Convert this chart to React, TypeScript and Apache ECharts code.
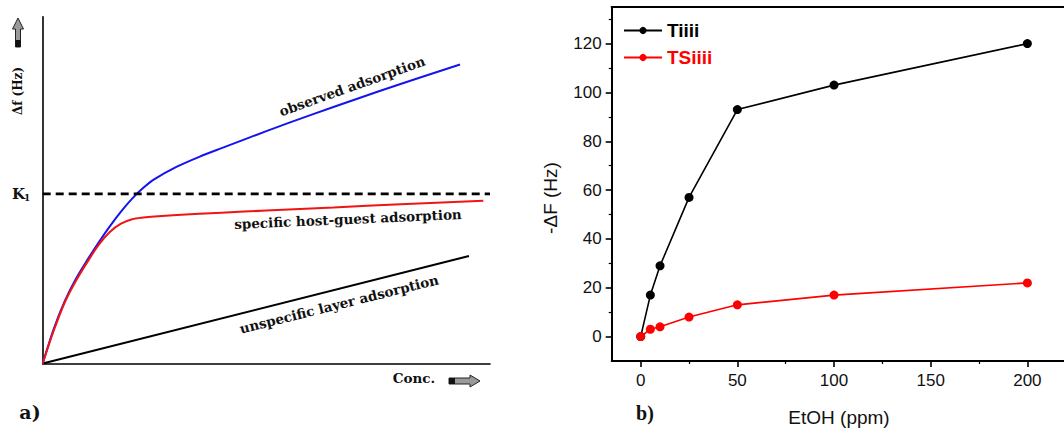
import React, { useEffect, useRef } from "react";
import * as echarts from "echarts";

// ---------- Panel a (schematic) ----------
const observedX = [0, 2.5, 5, 7.5, 10, 12.5, 15, 17.5, 20, 22.5, 25, 30, 35, 40, 50, 60, 70, 80, 93.3];
const observedY = [0, 10.1, 18.2, 24.6, 29.9, 34.9, 39.55, 43.8, 47.55, 50.65, 53.15, 56.75, 59.6, 62.1, 67.0, 71.7, 76.2, 80.6, 86.2];
const specificX = [0, 2.5, 5, 7.5, 10, 12.5, 15, 17.5, 20, 22.5, 25, 30, 40, 50, 65, 80, 98.5];
const specificY = [0, 9.6, 17.8, 24.0, 29.3, 34.2, 37.9, 40.3, 41.6, 42.1, 42.4, 42.8, 43.5, 44.1, 45.0, 45.9, 46.9];
const unspecificX = [0, 95.3];
const unspecificY = [0, 31.0];
const k1Level = 48.9;
const k1Span = [0, 100];

// ---------- Panel b (data) ----------
const ethanolPpm = [0, 5, 10, 25, 50, 100, 200];
const tiiii = [0, 17, 29, 57, 93, 103, 120];
const tsiiii = [0, 3, 4, 8, 13, 17, 22];
const xMajorTicks = [0, 50, 100, 150, 200];
const xMinorTicks = [25, 75, 125, 175];
const yMajorTicks = [0, 20, 40, 60, 80, 100, 120];
const yMinorTicks = [10, 30, 50, 70, 90, 110, 130];

const zip = (xs: number[], ys: number[]) => xs.map((x, i) => [x, ys[i]]);

const SERIF = "DejaVu Serif";
const SANS = "Liberation Sans";

export default function App() {
  const ref = useRef<HTMLDivElement>(null);
  useEffect(() => {
    if (!ref.current) return;
    const chart = echarts.init(ref.current, null, { renderer: "svg" });
    const deg = Math.PI / 180;
    const serifText = (text: string, x: number, y: number, size: number, rot = 0, align = "center") => ({
      type: "text",
      x,
      y,
      rotation: rot * deg,
      silent: true,
      style: { text, fontFamily: SERIF, fontWeight: "bold", fontSize: size, fill: "#111", align, verticalAlign: "middle" },
    });
    const option: any = {
      animation: false,
      backgroundColor: "#fff",
      grid: [
        { left: 42.7, top: 16.7, width: 447.3, height: 346.8 },
        { left: 611.7, top: 7, width: 464, height: 354 },
      ],
      xAxis: [
        {
          gridIndex: 0, type: "value", min: 0, max: 100,
          axisLine: { show: true, lineStyle: { color: "#000", width: 1.6 } },
          axisTick: { show: false }, axisLabel: { show: false }, splitLine: { show: false },
        },
        {
          gridIndex: 1, type: "value", min: -15, max: 225, position: "bottom",
          axisLine: { show: true, onZero: false, lineStyle: { color: "#000", width: 2 } },
          axisTick: { show: true, length: 6, customValues: xMajorTicks, lineStyle: { color: "#000", width: 1.6 } },
          axisLabel: { show: true, customValues: xMajorTicks, margin: 11, fontFamily: SANS, fontSize: 17, color: "#111" },
          splitLine: { show: false },
        },
        {
          gridIndex: 1, type: "value", min: -15, max: 225, position: "bottom",
          axisLine: { show: false, onZero: false },
          axisTick: { show: true, length: 3, customValues: xMinorTicks, lineStyle: { color: "#000", width: 1.2 } },
          axisLabel: { show: false }, splitLine: { show: false },
        },
        {
          gridIndex: 1, type: "value", min: -15, max: 225, position: "top",
          axisLine: { show: true, onZero: false, lineStyle: { color: "#000", width: 2.2 } },
          axisTick: { show: false }, axisLabel: { show: false }, splitLine: { show: false },
        },
      ],
      yAxis: [
        {
          gridIndex: 0, type: "value", min: 0, max: 100,
          axisLine: { show: true, lineStyle: { color: "#000", width: 1.6 } },
          axisTick: { show: false }, axisLabel: { show: false }, splitLine: { show: false },
        },
        {
          gridIndex: 1, type: "value", min: -10, max: 135, position: "left",
          axisLine: { show: true, onZero: false, lineStyle: { color: "#000", width: 2 } },
          axisTick: { show: true, length: 6, customValues: yMajorTicks, lineStyle: { color: "#000", width: 1.6 } },
          axisLabel: { show: true, customValues: yMajorTicks, margin: 10, fontFamily: SANS, fontSize: 17, color: "#111" },
          splitLine: { show: false },
        },
        {
          gridIndex: 1, type: "value", min: -10, max: 135, position: "left", offset: 0,
          axisLine: { show: false, onZero: false },
          axisTick: { show: true, length: 3, customValues: yMinorTicks, lineStyle: { color: "#000", width: 1.2 } },
          axisLabel: { show: false }, splitLine: { show: false },
        },
      ],
      legend: {
        left: 618, top: 16, orient: "vertical", itemWidth: 38, itemHeight: 9, itemGap: 8,
        textStyle: { fontFamily: SANS, fontWeight: "bold", fontSize: 19 },
        data: [
          { name: "Tiiii", textStyle: { color: "#000" } },
          { name: "TSiiii", textStyle: { color: "#ff0000" } },
        ],
      },
      series: [
        {
          name: "unspecific", type: "line", xAxisIndex: 0, yAxisIndex: 0, showSymbol: false,
          data: zip(unspecificX, unspecificY), lineStyle: { color: "#000", width: 2 },
        },
        {
          name: "observed", type: "line", xAxisIndex: 0, yAxisIndex: 0, showSymbol: false, smooth: 0.3,
          data: zip(observedX, observedY), lineStyle: { color: "#1414f0", width: 2 },
        },
        {
          name: "specific", type: "line", xAxisIndex: 0, yAxisIndex: 0, showSymbol: false, smooth: 0.3,
          data: zip(specificX, specificY), lineStyle: { color: "#f01414", width: 2 },
        },
        {
          name: "K1", type: "line", xAxisIndex: 0, yAxisIndex: 0, showSymbol: false,
          data: k1Span.map((x) => [x, k1Level]), lineStyle: { color: "#000", width: 2.6, type: [8, 5] },
        },
        {
          name: "Tiiii", type: "line", xAxisIndex: 1, yAxisIndex: 1, symbol: "circle", symbolSize: 9,
          data: zip(ethanolPpm, tiiii), itemStyle: { color: "#000" }, lineStyle: { color: "#000", width: 1.6 },
        },
        {
          name: "TSiiii", type: "line", xAxisIndex: 1, yAxisIndex: 1, symbol: "circle", symbolSize: 9,
          data: zip(ethanolPpm, tsiiii), itemStyle: { color: "#ff0000" }, lineStyle: { color: "#ff0000", width: 1.6 },
        },
      ],
      graphic: [
        serifText("observed adsorption", 352, 86, 13.5, 19.5),
        serifText("specific host-guest adsorption", 348, 219, 13.5, 2.5),
        serifText("unspecific layer adsorption", 339, 304, 13.5, 14),
        serifText("Δf (Hz)", 18, 91, 12, 90),
        serifText("K", 12, 194, 15, 0, "left"),
        serifText("1", 24, 198, 9, 0, "left"),
        serifText("Conc.", 414, 378, 13.5),
        serifText("a)", 30, 412, 19),
        {
          type: "text", x: 645, y: 413, silent: true,
          style: { text: "b)", fontFamily: "Liberation Serif", fontWeight: "bold", fontSize: 20, fill: "#111", align: "center", verticalAlign: "middle" },
        },
        {
          type: "text", x: 839, y: 417, silent: true,
          style: { text: "EtOH (ppm)", fontFamily: SANS, fontSize: 19, fill: "#111", align: "center", verticalAlign: "middle" },
        },
        {
          type: "text", x: 550, y: 198, rotation: 90 * deg, silent: true,
          style: { text: "-ΔF (Hz)", fontFamily: SANS, fontSize: 19, fill: "#111", align: "center", verticalAlign: "middle" },
        },
        // up arrow (y-axis direction)
        {
          type: "polygon", silent: true,
          shape: { points: [[18, 18], [23.5, 29], [20.5, 29], [20.5, 47], [15.5, 47], [15.5, 29], [12.5, 29]] },
          style: { fill: "#9a9a9a", stroke: "#222", lineWidth: 1 },
        },
        { type: "rect", silent: true, shape: { x: 15.5, y: 40, width: 5, height: 7 }, style: { fill: "#111" } },
        // right arrow (x-axis direction)
        {
          type: "polygon", silent: true,
          shape: { points: [[449, 378], [470, 378], [470, 375], [480, 381], [470, 387], [470, 384], [449, 384]] },
          style: { fill: "#9a9a9a", stroke: "#222", lineWidth: 1 },
        },
        { type: "rect", silent: true, shape: { x: 449, y: 378, width: 6, height: 6 }, style: { fill: "#111" } },
      ],
    };
    chart.setOption(option);
    return () => chart.dispose();
  }, []);
  return (
    <div style={{ position: "fixed", left: 0, top: 0, width: 1064, height: 429, overflow: "hidden", background: "#fff" }}>
      <div ref={ref} style={{ width: 1100, height: 429 }} />
    </div>
  );
}
